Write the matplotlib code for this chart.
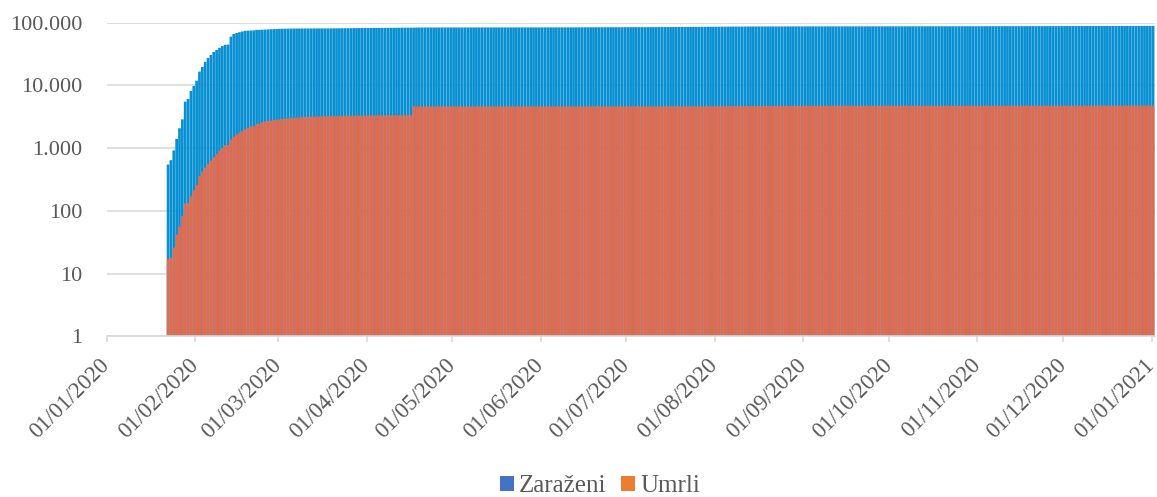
import numpy as np
import pandas as pd
import matplotlib
matplotlib.use("Agg")
import matplotlib.pyplot as plt
import matplotlib.dates as mdates
from matplotlib.patches import Patch

# ---------------- data (cumulative, daily from 22/01/2020 to 01/01/2021) -------------
conf_jan = [548, 643, 920, 1406, 2075, 2877, 5509, 6087, 8141, 9802]
conf_feb = [11891, 16630, 19716, 23707, 27440, 30587, 34110, 36814, 39829, 42354,
            44386, 44759, 59895, 66358, 68413, 70513, 72434, 74211, 74619, 75077,
            75550, 77001, 77022, 77241, 77754, 78166, 78600, 78928, 79356]
conf_mar = [79932, 80136, 80261, 80386, 80537, 80690, 80770, 80823, 80860, 80887,
            80921, 80932, 80945, 80977, 81003, 81033, 81058, 81102, 81156, 81250,
            81305, 81435, 81498, 81591, 81661, 81782, 81897, 81999, 82122, 82198, 82279]
conf_apr = [82361, 82432, 82511, 82543, 82602, 82665, 82718, 82809, 82883, 82941,
            82982, 83097, 83209, 83303, 83306, 83356, 83403, 83760, 83787, 83805,
            83817, 83853, 83868, 83884, 83899, 83909, 83912, 83918, 83940, 83944]
conf_may = [83956, 83959, 83961, 83964, 83966, 83968, 83970, 83975, 83976, 83990,
            84010, 84011, 84018, 84024, 84029, 84038, 84044, 84054, 84063, 84063,
            84065, 84081, 84084, 84095, 84102, 84103, 84106, 84106, 84123, 84128, 84146]
conf_jun = [84154, 84159, 84160, 84171, 84177, 84186, 84191, 84195, 84198, 84200,
            84216, 84228, 84286, 84335, 84378, 84422, 84458, 84494, 84522, 84553,
            84572, 84624, 84653, 84673, 84701, 84725, 84743, 84757, 84780, 84816]
conf_jul = [84838, 84857, 84871, 84885, 84907, 84917, 84940, 84972, 85012, 85051,
            85084, 85126, 85164, 85199, 85237, 85278, 85312, 85356, 85406, 85456,
            85515, 85572, 85631, 85690, 85752, 85829, 85901, 85973, 86051, 86132, 86210]
conf_aug = [86290, 86362, 86431, 86497, 86556, 86611, 86668, 86720, 86768, 86815,
            86859, 86893, 86928, 86962, 86994, 87023, 87050, 87076, 87098, 87119,
            87139, 87158, 87175, 87190, 87204, 87218, 87231, 87244, 87256, 87268, 87280]
conf_sep = [87291, 87302, 87312, 87322, 87331, 87340, 87349, 87357, 87366, 87374,
            87383, 87391, 87400, 87409, 87417, 87425, 87433, 87441, 87450, 87458,
            87466, 87474, 87482, 87490, 87498, 87507, 87515, 87523, 87531, 87540]
conf_oct = [87548, 87556, 87564, 87571, 87579, 87586, 87594, 87602, 87611, 87620,
            87629, 87639, 87650, 87662, 87673, 87685, 87697, 87710, 87722, 87735,
            87749, 87763, 87777, 87791, 87806, 87821, 87838, 87856, 87873, 87890, 87907]
conf_nov = [87922, 87936, 87950, 87963, 87977, 87990, 88004, 88017, 88031, 88044,
            88058, 88071, 88085, 88099, 88113, 88127, 88141, 88156, 88171, 88187,
            88203, 88220, 88238, 88256, 88275, 88294, 88313, 88332, 88351, 88370]
conf_dec = [88389, 88408, 88427, 88446, 88465, 88484, 88503, 88522, 88541, 88560,
            88578, 88596, 88614, 88632, 88650, 88667, 88684, 88701, 88718, 88735,
            88752, 88769, 88786, 88803, 88820, 88837, 88854, 88871, 88888, 88905, 88922]
conf_jan21 = [88940]

death_jan = [17, 18, 26, 42, 56, 82, 131, 133, 171, 213]
death_feb = [259, 361, 425, 490, 562, 632, 717, 804, 904, 1011,
             1111, 1116, 1368, 1520, 1662, 1765, 1863, 2002, 2114, 2236,
             2236, 2441, 2443, 2593, 2663, 2715, 2744, 2788, 2835]
death_mar = [2870, 2912, 2945, 2981, 3013, 3042, 3070, 3097, 3120, 3136,
             3158, 3169, 3176, 3189, 3199, 3213, 3226, 3237, 3245, 3249,
             3253, 3259, 3274, 3274, 3281, 3285, 3291, 3296, 3299, 3304, 3308]
death_apr = [3309, 3316, 3322, 3326, 3330, 3333, 3335, 3337, 3339, 3340,
             3343, 3343, 3345, 3345, 3345, 3346, 4636, 4636, 4636, 4636,
             4636, 4636, 4636, 4636, 4636, 4637, 4637, 4637, 4637, 4637]
death_may = [4637, 4637, 4637, 4637, 4637, 4637, 4637, 4637, 4637, 4637,
             4637, 4637, 4637, 4637, 4637, 4638, 4638, 4638, 4638, 4638,
             4638, 4638, 4638, 4638, 4638, 4638, 4638, 4638, 4638, 4638, 4638]
death_jun = [4638, 4638, 4638, 4638, 4638, 4638, 4638, 4638, 4638, 4638,
             4638, 4638, 4638, 4638, 4638, 4638, 4639, 4639, 4639, 4639,
             4639, 4639, 4639, 4640, 4640, 4640, 4640, 4641, 4641, 4641]
death_jul = [4641, 4641, 4641, 4641, 4641, 4641, 4641, 4641, 4641, 4641,
             4642, 4642, 4642, 4643, 4643, 4643, 4644, 4645, 4646, 4647,
             4648, 4649, 4650, 4651, 4652, 4653, 4654, 4655, 4656, 4658, 4660]
death_aug = [4663, 4666, 4669, 4672, 4675, 4678, 4681, 4684, 4687, 4690,
             4693, 4696, 4699, 4702, 4705, 4708, 4711, 4713, 4715, 4717,
             4719, 4721, 4722, 4723, 4724, 4725, 4726, 4727, 4728, 4729, 4730]
death_sep = [4731, 4731, 4732, 4732, 4733, 4733, 4734, 4734, 4735, 4735,
             4735, 4736, 4736, 4736, 4736, 4737, 4737, 4737, 4737, 4737,
             4737, 4738, 4738, 4738, 4738, 4738, 4738, 4738, 4738, 4738]
death_oct = [4738, 4738, 4738, 4738, 4738, 4738, 4738, 4738, 4738, 4738,
             4738, 4738, 4738, 4738, 4738, 4739, 4739, 4739, 4739, 4739,
             4739, 4739, 4739, 4739, 4739, 4739, 4739, 4739, 4739, 4739, 4739]
death_nov = [4739, 4739, 4739, 4739, 4739, 4739, 4739, 4739, 4739, 4740,
             4740, 4740, 4740, 4740, 4740, 4740, 4740, 4740, 4740, 4741,
             4741, 4741, 4741, 4741, 4741, 4742, 4742, 4742, 4742, 4742]
death_dec = [4743, 4744, 4745, 4746, 4747, 4748, 4749, 4750, 4751, 4752,
             4753, 4754, 4755, 4756, 4757, 4758, 4759, 4760, 4761, 4762,
             4763, 4764, 4765, 4766, 4767, 4768, 4770, 4772, 4774, 4776, 4777]
death_jan21 = [4778]

series_labels = ["Zaraženi", "Umrli"]
y_ticks = [1, 10, 100, 1000, 10000, 100000]
y_tick_labels = ["1", "10", "100", "1.000", "10.000", "100.000"]

confirmed = (conf_jan + conf_feb + conf_mar + conf_apr + conf_may + conf_jun + conf_jul
             + conf_aug + conf_sep + conf_oct + conf_nov + conf_dec + conf_jan21)
deaths = (death_jan + death_feb + death_mar + death_apr + death_may + death_jun + death_jul
          + death_aug + death_sep + death_oct + death_nov + death_dec + death_jan21)
dates = pd.date_range("2020-01-22", "2021-01-01", freq="D")

# ---------------- styling ---------------
BLUE = "#0890D2"
ORANGE = "#E8694A"
LEG_BLUE = "#4472C4"
LEG_ORANGE = "#ED7D31"
GRID = "#D9D9D9"
TXT = "#595959"
FONT = ["Liberation Serif", "DejaVu Serif"]
plt.rcParams["font.family"] = FONT

W, H = 1157, 497
fig = plt.figure(figsize=(W / 100, H / 100), dpi=100)
x0, x1, ytop, ybot = 106.7, 1154.5, 22.7, 336.3
ax = fig.add_axes([x0 / W, 1 - ybot / H, (x1 - x0) / W, (ybot - ytop) / H])

xnum = mdates.date2num(dates) + 0.5
ax.bar(xnum, confirmed, width=0.95, color=BLUE, linewidth=0, zorder=2, snap=False)
ax.bar(xnum, deaths, width=0.92, color=ORANGE, linewidth=0, zorder=3, snap=False)

ax.set_yscale("log")
ax.set_ylim(1, 100000)
ax.set_yticks(y_ticks)
ax.set_yticklabels(y_tick_labels)
ax.yaxis.set_minor_locator(matplotlib.ticker.NullLocator())
ax.tick_params(axis="y", length=0, pad=17.5, labelsize=16, labelcolor=TXT)
ax.grid(axis="y", color=GRID, linewidth=1.2, zorder=0)
ax.set_axisbelow(True)

ax.set_xlim(mdates.date2num(pd.Timestamp("2020-01-01")), mdates.date2num(pd.Timestamp("2021-01-02")))
month_ticks = pd.date_range("2020-01-01", "2021-01-01", freq="MS")
ax.set_xticks(mdates.date2num(month_ticks))
ax.set_xticklabels([d.strftime("%d/%m/%Y") for d in month_ticks], rotation=45,
                   ha="right", va="center", rotation_mode="anchor")
ax.tick_params(axis="x", length=4.5, width=1.2, color=GRID, direction="out",
               labelsize=16.3, labelcolor=TXT, pad=14)

for s in ["top", "right", "left"]:
    ax.spines[s].set_visible(False)
ax.spines["bottom"].set_color(GRID)
ax.spines["bottom"].set_linewidth(1.2)
ax.spines["bottom"].set_zorder(4)

handles = [Patch(facecolor=LEG_BLUE, edgecolor="none"), Patch(facecolor=LEG_ORANGE, edgecolor="none")]
fig.legend(handles, series_labels, loc="center", bbox_to_anchor=(600 / W, 1 - 486.5 / H),
           ncol=2, frameon=False, fontsize=18, labelcolor=TXT, handlelength=0.56,
           handleheight=0.56, handletextpad=0.2, columnspacing=0.6,
           borderpad=0, borderaxespad=0)

fig.savefig("out.png", dpi=100)
